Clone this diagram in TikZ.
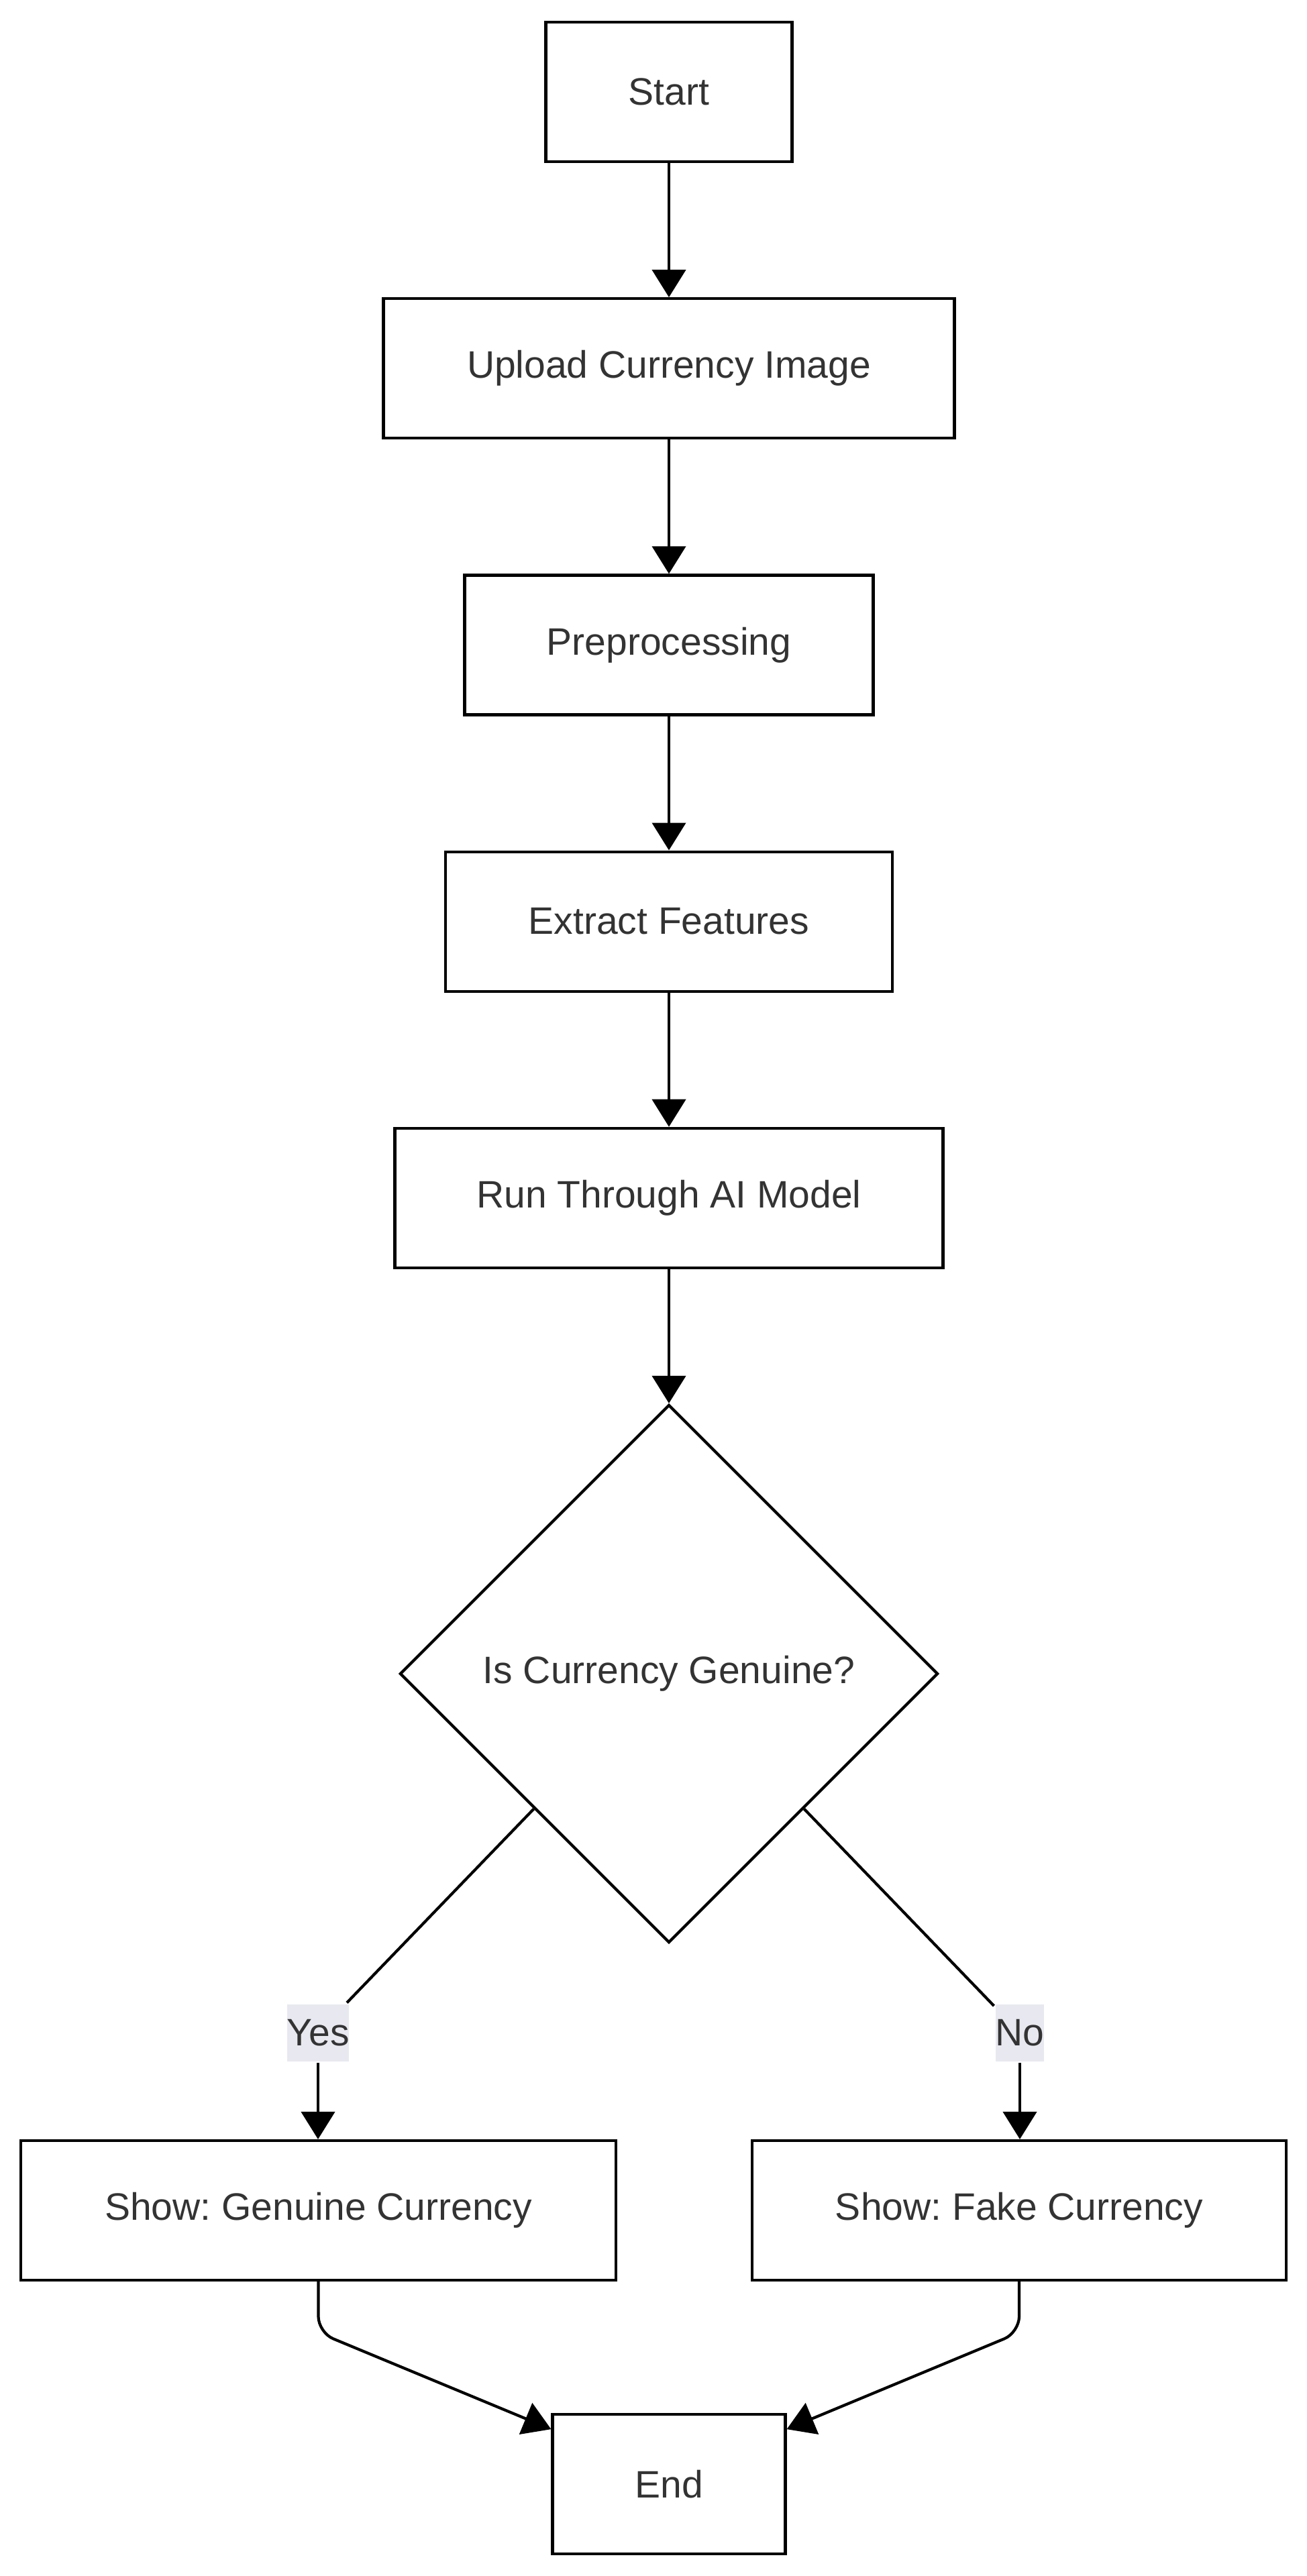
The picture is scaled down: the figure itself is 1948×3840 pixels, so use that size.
\documentclass[tikz,border=0pt]{standalone}
\usepackage{fontspec}
\setmainfont{Liberation Sans}
\usetikzlibrary{shapes.geometric,positioning,arrows.meta,calc}
\definecolor{txt}{HTML}{333333}
\definecolor{lbl}{HTML}{E8E8F0}
\frenchspacing

\begin{document}
\begin{tikzpicture}[x=0.5pt,y=-0.5pt,-{Triangle[length=20.5pt,width=25pt]},line width=2.1pt,
  box/.style={draw,rectangle,inner sep=0pt,minimum height=104pt,text=txt},
  yn/.style={fill=lbl,inner xsep=0pt,inner ysep=0pt,minimum height=42.5pt,text=txt},
  font=\fontsize{28.5}{34}\selectfont,node distance=100pt]
\useasboundingbox (0,0) rectangle (1948,3840);
\node[box,minimum width=183.5pt] (start) at (997,137) {Start};
\node[box,minimum width=425.5pt,below=of start] (upl) {Upload Currency Image};
\node[box,minimum width=304.5pt,below=of upl] (prep) {Preprocessing};
\node[box,minimum width=333pt,below=of prep] (feat) {Extract Features};
\node[box,minimum width=408.5pt,below=of feat] (model) {Run Through AI Model};
\node[draw,diamond,aspect=1,inner sep=0pt,minimum size=401pt,text=txt,below=of model] (dec) {Is Currency Genuine?};
\node[yn] (yes) at (474,3030) {Yes};
\node[yn] (no) at (1520,3030) {No};
\node[box,minimum width=443.5pt] (gen) at (474.5,3295) {Show: Genuine Currency};
\node[box,minimum width=398pt] (fake) at (1519,3295) {Show: Fake Currency};
\node[box,minimum width=173.5pt] (endbox) at (997,3703) {End};
\draw (start) -- (upl);
\draw (upl) -- (prep);
\draw (prep) -- (feat);
\draw (feat) -- (model);
\draw (model) -- (dec);
\coordinate (dSW) at ($(dec.west)!0.5!(dec.south)$);
\coordinate (dSE) at ($(dec.east)!0.5!(dec.south)$);
\draw[-] (dSW) -- (yes);
\draw (yes) -- (yes |- gen.north);
\draw[-] (dSE) -- (no);
\draw (no) -- (no |- fake.north);
\draw[rounded corners=12pt] (gen.south) -- ++(0,-38pt) -- (endbox.155);
\draw[rounded corners=12pt] (fake.south) -- ++(0,-38pt) -- (endbox.25);
\end{tikzpicture}
\end{document}
